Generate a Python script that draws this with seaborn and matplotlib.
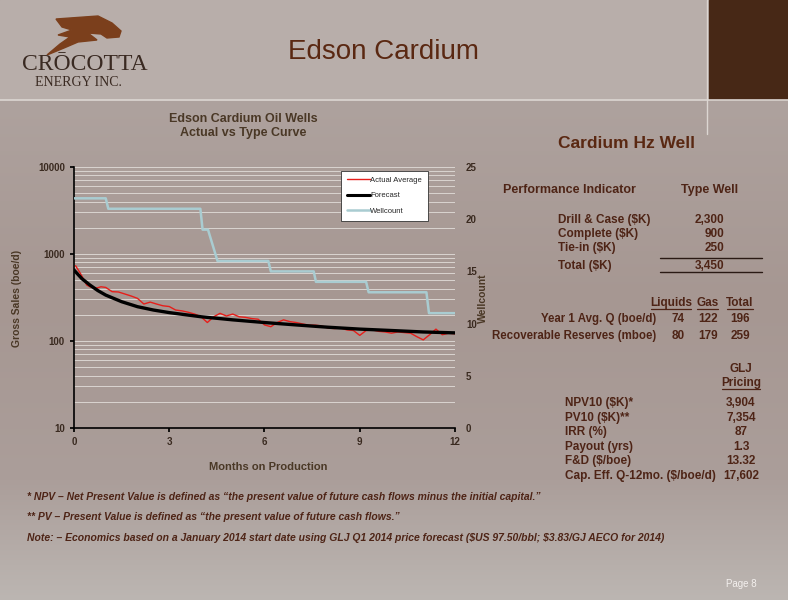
import numpy as np
import pandas as pd
import matplotlib
matplotlib.use("Agg")
import matplotlib.pyplot as plt
import seaborn as sns
from matplotlib.ticker import LogLocator, NullFormatter, FixedLocator, FuncFormatter
from matplotlib.lines import Line2D
from matplotlib.patches import Rectangle, Polygon

# ---- chart data ----
actual_months = [0.05, 0.2, 0.4, 0.5, 0.7, 0.85, 1.0, 1.2, 1.4, 1.6, 1.8, 2.0, 2.2, 2.4, 2.6, 2.8,
                 3.0, 3.2, 3.4, 3.6, 3.8, 4.0, 4.2, 4.4, 4.6, 4.8, 5.0, 5.2, 5.4, 5.6, 5.8, 6.0,
                 6.2, 6.4, 6.6, 6.8, 7.0, 7.2, 7.4, 7.6, 7.8, 8.0, 8.2, 8.4, 8.6, 8.8, 9.0, 9.2,
                 9.4, 9.6, 9.8, 10.0, 10.2, 10.4, 10.6, 10.8, 11.0, 11.2, 11.4, 11.6, 11.8, 12.0]
actual_avg = [733, 600, 440, 420, 405, 420, 413, 369, 366, 347, 329, 309, 266, 280, 266, 254,
              249, 227, 222, 214, 204, 190, 163, 190, 208, 194, 204, 190, 187, 181, 178, 153,
              146, 163, 175, 167, 163, 157, 152, 152, 149, 141, 139, 141, 134, 132, 116, 132,
              134, 129, 127, 123, 127, 125, 123, 112, 103, 118, 137, 118, 123, 121]

forecast_months = [0, 0.25, 0.5, 0.75, 1, 1.5, 2, 2.5, 3, 4, 5, 6, 7, 8, 9, 10, 11, 12]
forecast = [653, 520, 440, 380, 337, 283, 248, 227, 212, 190, 175, 163, 153, 144, 137, 132, 127, 124]

well_months = [0, 1.0, 1.08, 3.98, 4.05, 4.22, 4.52, 6.12, 6.2, 7.55, 7.62, 9.2, 9.28, 11.1, 11.18, 12]
wellcount = [22, 22, 21, 21, 19, 19, 16, 16, 15, 15, 14, 14, 13, 13, 11, 11]

x_ticks = [0, 3, 6, 9, 12]
y2_ticks = [0, 5, 10, 15, 20, 25]

# ---- table data ----
cost_labels = ["Drill & Case ($K)", "Complete ($K)", "Tie-in ($K)"]
cost_values = ["2,300", "900", "250"]
cost_total = "3,450"
prod_cols = ["Liquids", "Gas", "Total"]
prod_rows = ["Year 1 Avg. Q (boe/d)", "Recoverable Reserves (mboe)"]
prod_values = [["74", "122", "196"], ["80", "179", "259"]]
econ_labels = ["NPV10 ($K)*", "PV10 ($K)**", "IRR (%)", "Payout (yrs)", "F&D ($/boe)",
               "Cap. Eff. Q-12mo. ($/boe/d)"]
econ_values = ["3,904", "7,354", "87", "1.3", "13.32", "17,602"]
notes = ["* NPV \u2013 Net Present Value is defined as \u201cthe present value of future cash flows minus the initial capital.\u201d",
         "** PV \u2013 Present Value is defined as \u201cthe present value of future cash flows.\u201d",
         "Note: \u2013 Economics based on a January 2014 start date using GLJ Q1 2014 price forecast ($US 97.50/bbl; $3.83/GJ AECO for 2014)"]

sns.set_theme(style="white")
plt.rcParams['font.family'] = ['Liberation Sans', 'DejaVu Sans']
plt.rcParams['text.parse_math'] = False

W, H = 788, 600
fig = plt.figure(figsize=(W / 100, H / 100), dpi=100)

# background layer in pixel coords
bg = fig.add_axes([0, 0, 1, 1], zorder=-5)
bg.set_xlim(0, W)
bg.set_ylim(H, 0)
bg.axis("off")
stops = np.array([[0, 0xb3, 0xa8, 0xa4], [100, 0xae, 0xa2, 0x9e], [300, 0xa6, 0x97, 0x92],
                  [480, 0xab, 0x9e, 0x9a], [600, 0xbc, 0xb6, 0xb2]], dtype=float)
yy = np.arange(H)
grad = np.stack([np.interp(yy, stops[:, 0], stops[:, i]) for i in (1, 2, 3)], axis=1) / 255
bg.imshow(np.repeat(grad[:, None, :], 2, axis=1), extent=(0, W, H, 0), aspect="auto")
bg.add_patch(Rectangle((0, 0), W, 99, color="#b8aeaa", zorder=1))
bg.add_patch(Rectangle((709, 0), W - 709, 99, color="#472816", zorder=2))
bg.plot([0, W], [100, 100], color="#dcd6d2", lw=1.2, zorder=3)
bg.plot([707, 707], [0, 134], color="#dcd6d2", lw=1.0, zorder=3)

# logo
head = [(56, 19), (98, 16), (112, 23), (121, 31), (119, 37), (107, 38), (101, 34), (88, 33),
        (97, 40), (78, 42), (64, 48), (47, 55), (60, 44), (70, 37), (58, 35), (72, 30), (62, 27)]
bg.add_patch(Polygon(head, closed=True, color="#7b3f1c", zorder=4))
bg.text(85, 64, "CR\u014cCOTTA", family="Liberation Serif", fontsize=17, color="#3a2a22",
        ha="center", va="center", zorder=4)
bg.text(78, 83, "ENERGY INC.", family="Liberation Serif", fontsize=10, color="#3a2a22",
        ha="center", va="center", zorder=4)

bg.text(384, 52, "Edson Cardium", fontsize=20, color="#5a2812", ha="center", va="center")

# chart titles and labels
chart_txt = "#4a3826"
bg.text(243, 126, "Edson Cardium Oil Wells\nActual vs Type Curve", fontsize=9, weight="bold",
        color=chart_txt, ha="center", va="center", linespacing=1.15)
bg.text(17, 298, "Gross Sales (boe/d)", fontsize=7.5, weight="bold", color=chart_txt,
        rotation=90, ha="center", va="center")
bg.text(483, 298, "Wellcount", fontsize=7.5, weight="bold", color=chart_txt,
        rotation=90, ha="center", va="center")
bg.text(268, 467, "Months on Production", fontsize=8, weight="bold", color=chart_txt,
        ha="center", va="center")

# ---- chart ----
ax = fig.add_axes([74 / W, 1 - 428 / H, 381 / W, 261 / H])
ax.set_facecolor("none")
df_a = pd.DataFrame({"month": actual_months, "boe": actual_avg})
df_f = pd.DataFrame({"month": forecast_months, "boe": forecast})
sns.lineplot(data=df_a, x="month", y="boe", ax=ax, color="#e61e1a", lw=1.0, zorder=4)
sns.lineplot(data=df_f, x="month", y="boe", ax=ax, color="black", lw=2.4, zorder=5)
ax.set_yscale("log")
ax.set_ylim(10, 10000)
ax.set_xlim(0, 12)
ax.yaxis.set_major_locator(FixedLocator([10, 100, 1000, 10000]))
ax.yaxis.set_major_formatter(FuncFormatter(lambda v, p: f"{int(v)}"))
ax.yaxis.set_minor_locator(LogLocator(base=10, subs=range(2, 10)))
ax.yaxis.set_minor_formatter(NullFormatter())
ax.set_xticks(x_ticks)
ax.grid(axis="y", which="both", color="#dad4d0", lw=0.7)
ax.grid(axis="x", visible=False)
for s in ["top", "right"]:
    ax.spines[s].set_visible(False)
for s in ["left", "bottom"]:
    ax.spines[s].set_color("black")
    ax.spines[s].set_linewidth(1.2)
ax.tick_params(axis="both", which="major", labelsize=7, labelcolor="#3a2a20", length=3,
               direction="out", color="black", left=True, bottom=True)
ax.tick_params(axis="y", which="minor", length=0)
for t in ax.get_xticklabels() + ax.get_yticklabels():
    t.set_fontweight("bold")
ax.set_xlabel("")
ax.set_ylabel("")

ax2 = ax.twinx()
ax2.set_facecolor("none")
df_w = pd.DataFrame({"month": well_months, "wells": wellcount})
sns.lineplot(data=df_w, x="month", y="wells", ax=ax2, color="#a9ccd1", lw=1.8,
             estimator=None, sort=False, zorder=3)
ax2.set_ylim(0, 25)
ax2.set_yticks(y2_ticks)
ax2.grid(False)
for s in ["top", "right", "left", "bottom"]:
    ax2.spines[s].set_visible(False)
ax2.tick_params(axis="y", labelsize=7, labelcolor="#3a2a20", length=0, pad=8)
for t in ax2.get_yticklabels():
    t.set_fontweight("bold")
ax2.set_ylabel("")

handles = [Line2D([], [], color="#e61e1a", lw=1.0), Line2D([], [], color="black", lw=2.2),
           Line2D([], [], color="#a9ccd1", lw=1.8)]
leg = ax2.legend(handles, ["Actual Average", "Forecast", "Wellcount"], loc="upper left",
                 bbox_to_anchor=(341 / W, 1 - 171 / H), bbox_transform=fig.transFigure,
                 fontsize=5.5, frameon=True, fancybox=False, framealpha=1, edgecolor="#333333",
                 handlelength=3.0, handletextpad=0.1, labelspacing=1.05, borderpad=0.75,
                 borderaxespad=0)
leg.get_frame().set_linewidth(0.6)

# ---- right panel table ----
tc = "#4e2416"
fs = 9
bg.text(627, 143, "Cardium Hz Well", fontsize=12.5, weight="bold", color="#5a2812",
        ha="center", va="center")
bg.text(503, 190, "Performance Indicator", fontsize=fs, weight="bold", color=tc, va="center")
bg.text(710, 190, "Type Well", fontsize=fs, weight="bold", color=tc, ha="center", va="center")
for i, (lab, val) in enumerate(zip(cost_labels, cost_values)):
    y = 220 + i * 14
    bg.text(558, y, lab, fontsize=8.5, weight="bold", color=tc, va="center")
    bg.text(724, y, val, fontsize=8.5, weight="bold", color=tc, ha="right", va="center")
bg.plot([660, 762], [258, 258], color="#2a1a14", lw=1.0)
bg.text(558, 266, "Total ($K)", fontsize=8.5, weight="bold", color=tc, va="center")
bg.text(710, 266, cost_total, fontsize=8.5, weight="bold", color=tc, ha="center", va="center")
bg.plot([660, 762], [272, 272], color="#2a1a14", lw=1.0)

col_x = [671, 708, 740]
val_x = [678, 708, 740]
for cx, name in zip(col_x, prod_cols):
    bg.text(cx, 303, name, fontsize=8.5, weight="bold", color=tc, ha="center", va="center")
ul = [(651, 691), (697, 718), (727, 753)]
for x0, x1 in ul:
    bg.plot([x0, x1], [308.5, 308.5], color=tc, lw=0.9)
for r, (lab, vals) in enumerate(zip(prod_rows, prod_values)):
    y = 319 + r * 17
    bg.text(656, y, lab, fontsize=8.3, weight="bold", color=tc, ha="right", va="center")
    for vx, v in zip(val_x, vals):
        bg.text(vx, y, v, fontsize=8.5, weight="bold", color=tc, ha="center", va="center")

bg.text(741, 369, "GLJ", fontsize=8.5, weight="bold", color=tc, ha="center", va="center")
bg.text(741, 383, "Pricing", fontsize=8.5, weight="bold", color=tc, ha="center", va="center")
bg.plot([722, 760], [388.5, 388.5], color=tc, lw=0.9)
for i, (lab, val) in enumerate(zip(econ_labels, econ_values)):
    y = 403 + i * 14.6
    bg.text(565, y, lab, fontsize=8.5, weight="bold", color=tc, va="center")
    bg.text(741, y, val, fontsize=8.5, weight="bold", color=tc, ha="center", va="center")

# ---- footnotes ----
for i, n in enumerate(notes):
    bg.text(27, 497 + i * 20.5, n, fontsize=7.45, weight="bold", style="italic", color=tc,
            va="center", family=["Liberation Sans Narrow", "Liberation Sans", "DejaVu Sans"])
bg.text(757, 584, "Page 8", fontsize=7, color="#f4f0ee", ha="right", va="center")

fig.savefig("out.png", dpi=100)
